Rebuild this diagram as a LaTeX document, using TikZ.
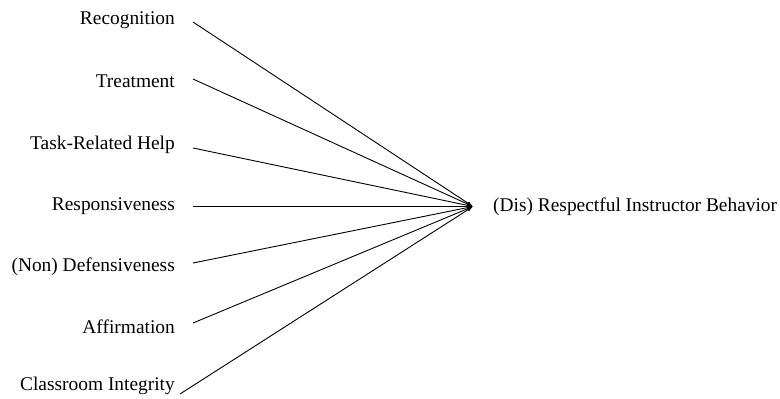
\documentclass[tikz,border=0pt]{standalone}
\usepackage{fontspec}
\setmainfont{Liberation Serif}
\usetikzlibrary{arrows.meta}
\begin{document}
\begin{tikzpicture}[x=1bp,y=-1bp,
  lbl/.style={font=\fontsize{19.4bp}{23bp}\selectfont, inner sep=0pt, anchor=east},
  tgt/.style={font=\fontsize{19.4bp}{23bp}\selectfont, inner sep=0pt, anchor=west},
  conn/.style={line width=0.9bp, -{Latex[length=6bp,width=4bp]}}]
\useasboundingbox (0,0) rectangle (780,398);
\node[lbl] (n1) at (175,20) {Recognition};
\node[lbl] (n2) at (175,81) {Treatment};
\node[lbl] (n3) at (175,145) {Task-Related Help};
\node[lbl] (n4) at (175,206) {Responsiveness};
\node[lbl] (n5) at (175,267) {(Non) Defensiveness};
\node[lbl] (n6) at (175,327) {Affirmation};
\node[lbl] (n7) at (175,386) {Classroom Integrity};
\node[tgt] (t) at (493,207) {(Dis) Respectful Instructor Behavior};
\coordinate (tip) at (473,206.5);
\coordinate (s1) at (193,22);
\coordinate (s2) at (193,79);
\coordinate (s3) at (193,148);
\coordinate (s4) at (193,206.5);
\coordinate (s5) at (193,263);
\coordinate (s6) at (193,323);
\coordinate (s7) at (180,394);
\foreach \i in {1,...,7} \draw[conn] (s\i) -- (tip);
\end{tikzpicture}
\end{document}
